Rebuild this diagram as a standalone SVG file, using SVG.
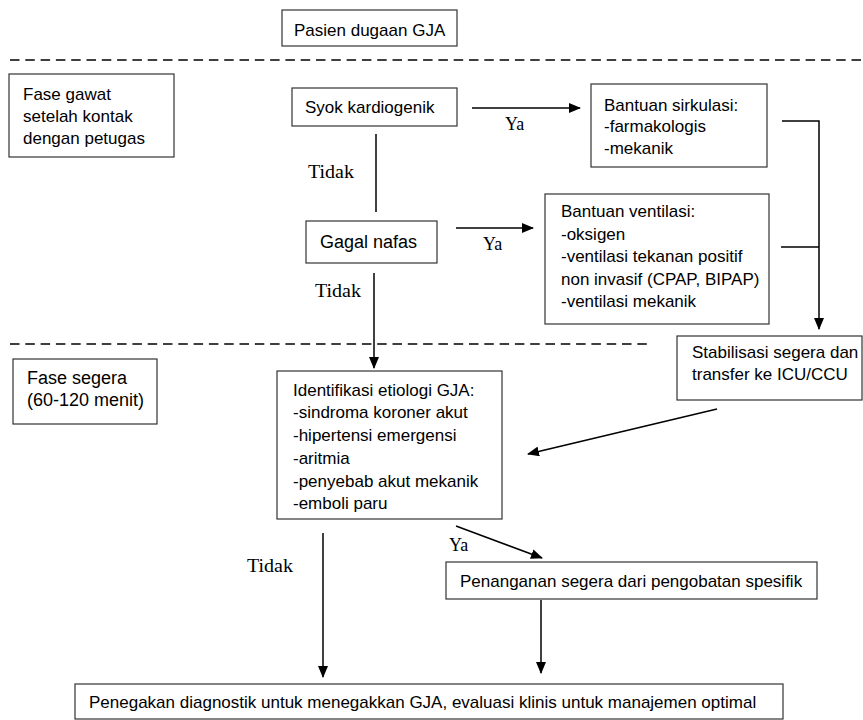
<svg xmlns="http://www.w3.org/2000/svg" width="863" height="720" viewBox="0 0 863 720">
<defs>
<marker id="ah" markerWidth="12" markerHeight="10" refX="11" refY="5" orient="auto" markerUnits="userSpaceOnUse">
<path d="M0,0 L12,5 L0,10 Z" fill="#000"/>
</marker>
<style>
.box{fill:#fff;stroke:#333;stroke-width:1.2}
.t{font-family:"Liberation Sans",Arial,sans-serif;font-size:17px;fill:#000}
.lbl{font-family:"Liberation Serif","Times New Roman",serif;font-size:18px;fill:#000}
.ln{fill:none;stroke:#000;stroke-width:1.5}
.arr{fill:none;stroke:#000;stroke-width:1.5;marker-end:url(#ah)}
.dash{fill:none;stroke:#000;stroke-width:1.5;stroke-dasharray:9.5 5.8}
</style>
</defs>
<rect width="863" height="720" fill="#fff"/>

<g id="separators">
<line class="dash" x1="10" y1="60" x2="862" y2="60"/>
<line class="dash" x1="10" y1="344" x2="650" y2="344"/>
</g>

<g id="pasien">
<rect class="box" x="282" y="10" width="175" height="36"/>
<text class="t" x="294" y="36">Pasien dugaan GJA</text>
</g>

<g id="fase-gawat">
<rect class="box" x="9" y="74" width="165" height="83"/>
<text class="t" x="23" y="100">Fase gawat</text>
<text class="t" x="23" y="122">setelah kontak</text>
<text class="t" x="23" y="144">dengan petugas</text>
</g>

<g id="syok">
<rect class="box" x="292" y="88" width="165" height="38"/>
<text class="t" x="305" y="113">Syok kardiogenik</text>
</g>

<g id="sirkulasi">
<rect class="box" x="591" y="84" width="176" height="83"/>
<text class="t" x="604" y="111">Bantuan sirkulasi:</text>
<text class="t" x="604" y="132">-farmakologis</text>
<text class="t" x="604" y="154">-mekanik</text>
</g>

<g id="gagal-nafas">
<rect class="box" x="306" y="221" width="131" height="42"/>
<text class="t" x="320" y="248" style="font-size:18px">Gagal nafas</text>
</g>

<g id="ventilasi">
<rect class="box" x="545" y="194" width="224" height="130"/>
<text class="t" x="561" y="217">Bantuan ventilasi:</text>
<text class="t" x="561" y="240">-oksigen</text>
<text class="t" x="561" y="262">-ventilasi tekanan positif</text>
<text class="t" x="561" y="285">non invasif (CPAP, BIPAP)</text>
<text class="t" x="561" y="307">-ventilasi mekanik</text>
</g>

<g id="stabilisasi">
<rect class="box" x="677" y="336" width="185" height="64"/>
<text class="t" x="692" y="358">Stabilisasi segera dan</text>
<text class="t" x="692" y="380">transfer ke ICU/CCU</text>
</g>

<g id="fase-segera">
<rect class="box" x="13" y="359" width="144" height="65"/>
<text class="t" x="27" y="384" style="font-size:18px">Fase segera</text>
<text class="t" x="27" y="406" style="font-size:18px">(60-120 menit)</text>
</g>

<g id="identifikasi">
<rect class="box" x="277" y="371" width="225" height="148"/>
<text class="t" x="293" y="396">Identifikasi etiologi GJA:</text>
<text class="t" x="293" y="418">-sindroma koroner akut</text>
<text class="t" x="293" y="441">-hipertensi emergensi</text>
<text class="t" x="293" y="464">-aritmia</text>
<text class="t" x="293" y="487">-penyebab akut mekanik</text>
<text class="t" x="293" y="509">-emboli paru</text>
</g>

<g id="penanganan">
<rect class="box" x="446" y="562" width="371" height="37"/>
<text class="t" x="460" y="587">Penanganan segera dari pengobatan spesifik</text>
</g>

<g id="penegakan">
<rect class="box" x="75" y="684" width="708" height="35"/>
<text class="t" x="89" y="708">Penegakan diagnostik untuk menegakkan GJA, evaluasi klinis untuk manajemen optimal</text>
</g>

<g id="connectors">
<line class="arr" x1="472" y1="108" x2="580" y2="108"/>
<text class="lbl" x="505" y="130">Ya</text>
<line class="ln" x1="376" y1="134" x2="376" y2="212"/>
<text class="lbl" x="308" y="178" textLength="46" lengthAdjust="spacingAndGlyphs">Tidak</text>
<line class="arr" x1="456" y1="228" x2="533" y2="228"/>
<text class="lbl" x="483" y="250">Ya</text>
<polyline class="arr" points="782,121 819,121 819,329"/>
<line class="ln" x1="781" y1="247" x2="819" y2="247"/>
<line class="arr" x1="374" y1="273" x2="374" y2="368"/>
<text class="lbl" x="315" y="297" textLength="46" lengthAdjust="spacingAndGlyphs">Tidak</text>
<line class="arr" x1="717" y1="409" x2="528" y2="454"/>
<line class="arr" x1="456" y1="526" x2="542" y2="558"/>
<text class="lbl" x="449" y="551">Ya</text>
<line class="arr" x1="323" y1="533" x2="323" y2="677"/>
<text class="lbl" x="247" y="572" textLength="46" lengthAdjust="spacingAndGlyphs">Tidak</text>
<line class="arr" x1="541" y1="600" x2="541" y2="673"/>
</g>
</svg>
